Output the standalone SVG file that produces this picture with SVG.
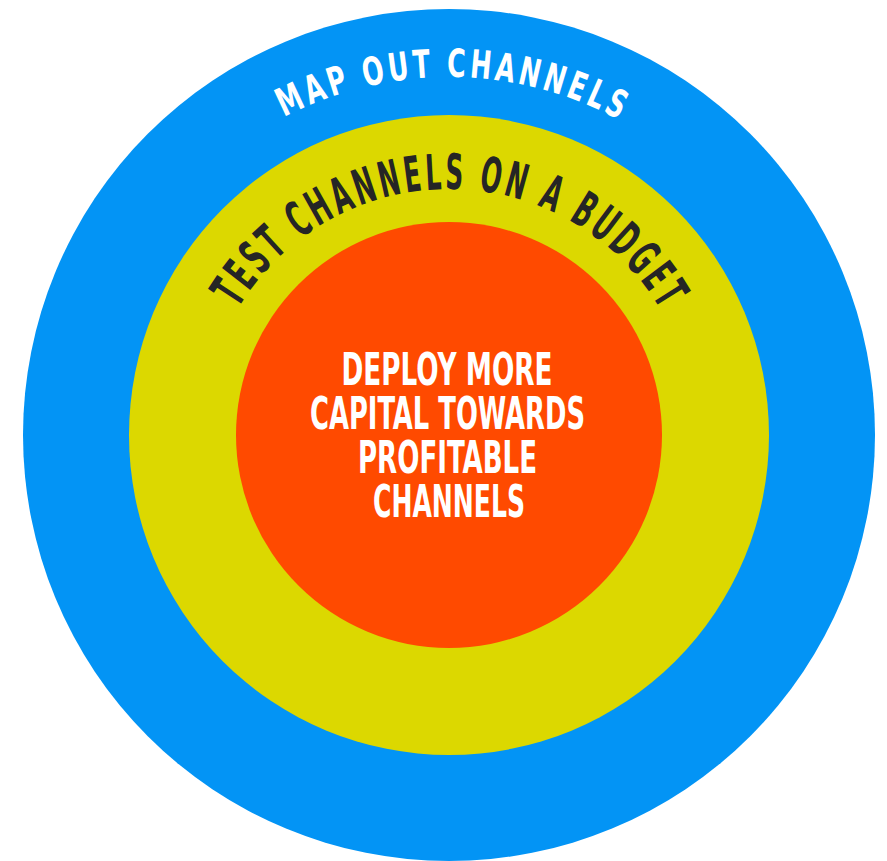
<svg xmlns="http://www.w3.org/2000/svg" xmlns:xlink="http://www.w3.org/1999/xlink" width="887" height="861" viewBox="0 0 887 861">
  <style>
    .lbl { font-family: "DejaVu Sans Condensed", "DejaVu Sans", "Liberation Sans Narrow", sans-serif; font-stretch: condensed; font-weight: bold; }
    .outer-lbl { fill: #ffffff; font-size: 39px; letter-spacing: 5px; }
    .mid-lbl { fill: #252525; font-size: 49px; letter-spacing: 6px; }
    .core-lbl { fill: #ffffff; font-size: 44px; text-anchor: middle; }
  </style>
  <defs>
    <!-- baseline arcs, left to right over the top -->
    <path id="arc-outer" d="M 91 435 A 358 358 0 0 1 807 435"/>
    <path id="arc-mid" d="M 203 435 A 246 246 0 0 1 695 435"/>
  </defs>

  <rect width="887" height="861" fill="#ffffff"/>

  <g id="ring-map">
    <circle cx="449" cy="435" r="426" fill="#0394f5"/>
    <text class="lbl outer-lbl"><textPath xlink:href="#arc-outer" href="#arc-outer" startOffset="50.4%" text-anchor="middle" textLength="352" lengthAdjust="spacingAndGlyphs">MAP OUT CHANNELS</textPath></text>
  </g>

  <g id="ring-test">
    <circle cx="449" cy="435" r="320" fill="#dcd800"/>
    <text class="lbl mid-lbl"><textPath xlink:href="#arc-mid" href="#arc-mid" startOffset="50.3%" text-anchor="middle" textLength="512" lengthAdjust="spacingAndGlyphs">TEST CHANNELS ON A BUDGET</textPath></text>
  </g>

  <g id="core-deploy">
    <circle cx="449" cy="435" r="213" fill="#ff4a00"/>
    <text class="lbl core-lbl" x="447" y="385" textLength="211" lengthAdjust="spacingAndGlyphs">DEPLOY MORE</text>
    <text class="lbl core-lbl" x="447.5" y="429" textLength="275" lengthAdjust="spacingAndGlyphs">CAPITAL TOWARDS</text>
    <text class="lbl core-lbl" x="447.5" y="473" textLength="179" lengthAdjust="spacingAndGlyphs">PROFITABLE</text>
    <text class="lbl core-lbl" x="449" y="517" textLength="152" lengthAdjust="spacingAndGlyphs">CHANNELS</text>
  </g>
</svg>
